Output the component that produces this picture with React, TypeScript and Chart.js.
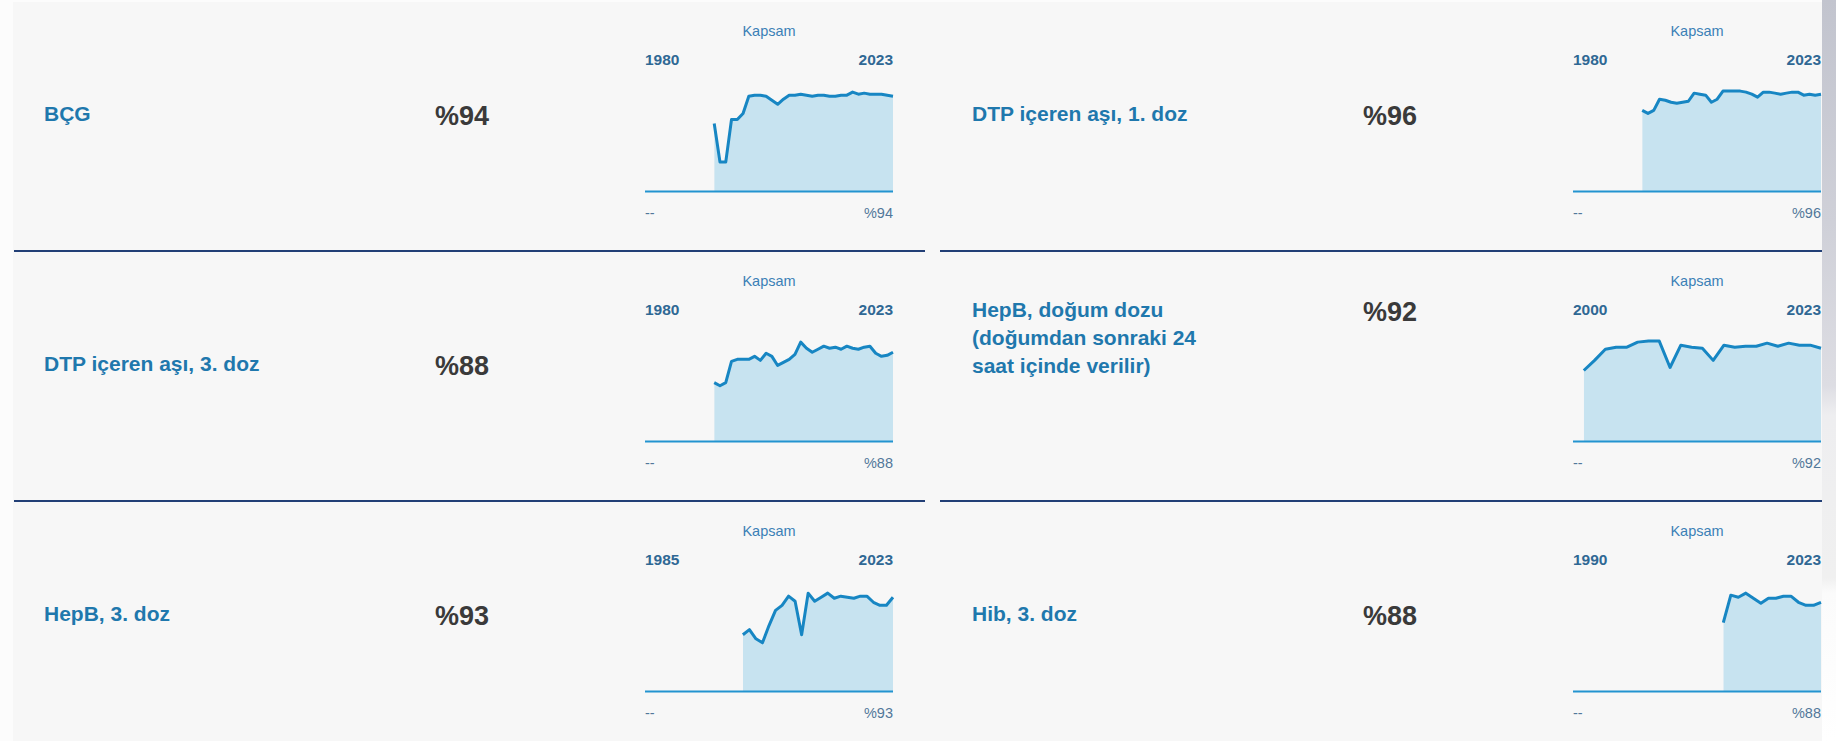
import React, { useEffect, useRef } from "react";
import { Chart, registerables } from "chart.js";

Chart.register(...registerables);

// ---------- DATA ----------
const vaccineNames = [
  "BÇG",
  "DTP içeren aşı, 1. doz",
  "DTP içeren aşı, 3. doz",
  "HepB, doğum dozu (doğumdan sonraki 24 saat içinde verilir)",
  "HepB, 3. doz",
  "Hib, 3. doz",
];
const latestCoverage = ["%94", "%96", "%88", "%92", "%93", "%88"];
const axisStartYears = [1980, 1980, 1980, 2000, 1985, 1990];
const axisEndYear = 2023;
const seriesTitle = "Kapsam";
const missingLabel = "--";

const yearsFrom1992 = [
  1992, 1993, 1994, 1995, 1996, 1997, 1998, 1999, 2000, 2001, 2002, 2003, 2004, 2005, 2006, 2007,
  2008, 2009, 2010, 2011, 2012, 2013, 2014, 2015, 2016, 2017, 2018, 2019, 2020, 2021, 2022, 2023,
];
const yearsFrom2000 = [
  2000, 2001, 2002, 2003, 2004, 2005, 2006, 2007, 2008, 2009, 2010, 2011, 2012, 2013, 2014, 2015,
  2016, 2017, 2018, 2019, 2020, 2021, 2022, 2023,
];
const yearsFrom2001 = [
  2001, 2002, 2003, 2004, 2005, 2006, 2007, 2008, 2009, 2010, 2011, 2012, 2013, 2014, 2015, 2016,
  2017, 2018, 2019, 2020, 2021, 2022, 2023,
];
const yearsFrom2010 = [2010, 2011, 2012, 2013, 2014, 2015, 2016, 2017, 2018, 2019, 2020, 2021, 2022, 2023];

const bcgValues = [
  67, 29, 29, 71, 71, 77, 94, 95, 95, 94, 90, 86, 91, 95, 95, 96, 95, 94, 95, 95, 94, 94, 95, 95, 98,
  96, 97, 96, 96, 96, 95, 94,
];
const dtp1Values = [
  80, 77, 80, 91, 90, 88, 87, 88, 89, 97, 96, 95, 88, 91, 99, 99, 99, 99, 98, 96, 93, 98, 98, 97, 96,
  97, 98, 98, 95, 96, 95, 96,
];
const dtp3Values = [
  58, 55, 58, 79, 81, 81, 81, 84, 80, 87, 84, 75, 78, 81, 86, 98, 92, 88, 91, 94, 92, 93, 91, 94, 92,
  91, 93, 94, 87, 84, 85, 88,
];
const hepbBirthValues = [70, 80, 91, 93, 93, 98, 99, 99, 73, 95, 93, 92, 80, 95, 93, 94, 94, 97, 94, 97, 95, 95, 92];
const hepb3Values = [56, 61, 52, 48, 65, 80, 85, 94, 89, 56, 97, 89, 93, 97, 92, 94, 93, 92, 94, 94, 88, 85, 85, 93];
const hib3Values = [68, 95, 93, 97, 92, 87, 92, 92, 94, 94, 88, 85, 85, 88];

const seriesYears = [yearsFrom1992, yearsFrom1992, yearsFrom1992, yearsFrom2001, yearsFrom2000, yearsFrom2010];
const seriesValues = [bcgValues, dtp1Values, dtp3Values, hepbBirthValues, hepb3Values, hib3Values];

// ---------- STYLE ----------
const FONT = '"Liberation Sans", Arial, Helvetica, sans-serif';
const LINE = "#1786c3";
const FILL = "#c7e3f0";
const BASE = "#2394d0";

function Sparkline({ years, values, startYear }: { years: number[]; values: number[]; startYear: number }) {
  const ref = useRef<HTMLCanvasElement | null>(null);
  useEffect(() => {
    if (!ref.current) return;
    const points = years.map((yr, i) => ({ x: yr, y: values[i] }));
    const chart = new Chart(ref.current, {
      type: "line",
      data: {
        datasets: [
          {
            label: "baseline",
            data: [
              { x: startYear, y: 0 },
              { x: axisEndYear, y: 0 },
            ],
            borderColor: BASE,
            borderWidth: 2,
            pointRadius: 0,
            fill: false,
            order: 0,
            clip: 6,
          } as any,
          {
            label: seriesTitle,
            data: points,
            borderColor: LINE,
            borderWidth: 3,
            backgroundColor: FILL,
            fill: "origin",
            pointRadius: 0,
            tension: 0,
            order: 1,
            clip: 6,
            borderJoinStyle: "round",
          } as any,
        ],
      },
      options: {
        responsive: false,
        animation: false,
        events: [],
        layout: { padding: { top: 4.1, bottom: 4.5, left: 4, right: 4 } },
        plugins: { legend: { display: false }, tooltip: { enabled: false } },
        scales: {
          x: { type: "linear", min: startYear, max: axisEndYear, display: false },
          y: { min: 0, max: 100, display: false },
        },
      },
    });
    return () => chart.destroy();
  }, [years, values, startYear]);
  return (
    <canvas
      ref={ref}
      width={256}
      height={110}
      style={{ position: "absolute", left: 628, top: 85, width: 256, height: 110 }}
    />
  );
}

function Card({ index }: { index: number }) {
  const col = index % 2;
  const row = Math.floor(index / 2);
  const left = col === 0 ? 0 : 928;
  const top = row * 250 - 1;
  const chartLeft = 632;
  const chartWidth = 248;
  return (
    <div style={{ position: "absolute", left, top, width: 913, height: 250 }}>
      <div
        style={{
          position: "absolute",
          left: 31,
          bottom: 121,
          display: "flex",
          alignItems: "flex-start",
        }}
      >
        <div style={{ width: 391 }}>
          <div
            style={{
              maxWidth: 240,
              fontSize: 21,
              lineHeight: "28px",
              fontWeight: 700,
              color: "#1f78ad",
            }}
          >
            {vaccineNames[index]}
          </div>
        </div>
        <div style={{ fontSize: 27, lineHeight: "28px", fontWeight: 700, color: "#3a3a3a", marginTop: 2 }}>
          {latestCoverage[index]}
        </div>
      </div>

      <div
        style={{
          position: "absolute",
          left: chartLeft,
          top: 21,
          width: chartWidth,
          textAlign: "center",
          fontSize: 14.5,
          lineHeight: "18px",
          color: "#3b80b6",
        }}
      >
        {seriesTitle}
      </div>
      <div
        style={{
          position: "absolute",
          left: chartLeft,
          top: 50,
          width: chartWidth,
          display: "flex",
          justifyContent: "space-between",
          fontSize: 15.5,
          lineHeight: "18px",
          fontWeight: 700,
          color: "#2f6894",
        }}
      >
        <span>{axisStartYears[index]}</span>
        <span>{axisEndYear}</span>
      </div>

      <Sparkline years={seriesYears[index]} values={seriesValues[index]} startYear={axisStartYears[index]} />

      <div
        style={{
          position: "absolute",
          left: chartLeft,
          top: 203,
          width: chartWidth,
          display: "flex",
          justifyContent: "space-between",
          fontSize: 14.5,
          lineHeight: "18px",
          color: "#52789a",
        }}
      >
        <span>{missingLabel}</span>
        <span>{latestCoverage[index]}</span>
      </div>

      <div
        style={{
          position: "absolute",
          left: col === 0 ? 1 : -1,
          top: 249,
          width: 911,
          height: 2,
          background: "#223f76",
        }}
      />
    </div>
  );
}

export default function App() {
  return (
    <div
      style={{
        position: "absolute",
        left: 0,
        top: 0,
        width: 1836,
        height: 741,
        overflow: "hidden",
        background: "#fcfcfc",
        fontFamily: FONT,
      }}
    >
      <div
        style={{
          position: "absolute",
          left: 13,
          top: 2,
          width: 1809,
          height: 739,
          background: "#f7f7f7",
          overflow: "hidden",
        }}
      >
        {vaccineNames.map((_, i) => (
          <Card key={i} index={i} />
        ))}
      </div>
      <div
        style={{
          position: "absolute",
          left: 1822,
          top: 0,
          width: 14,
          height: 741,
          background:
            "linear-gradient(to bottom, #c2c4ce 0%, #cfd0d8 30%, #dddde3 52%, #eeeef0 56%, #f0f0f0 78%, #fbfbfb 80%, #ffffff 100%)",
        }}
      />
    </div>
  );
}
